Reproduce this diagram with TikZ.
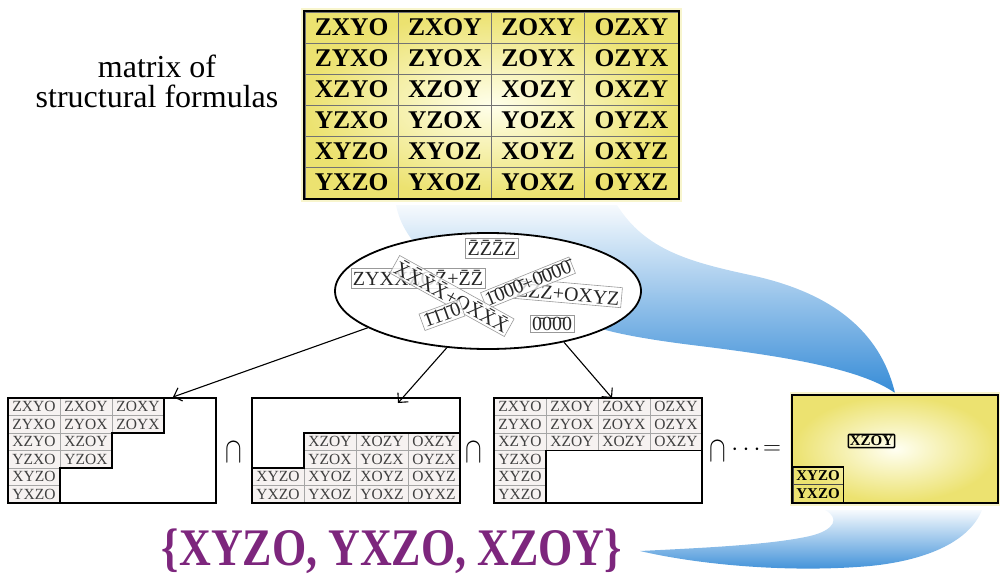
\documentclass[tikz,border=0pt]{standalone}
\usepackage{fontspec}
\setmainfont{Liberation Serif}
\usetikzlibrary{arrows.meta,shapes.geometric,shadings}
\definecolor{swooshblue}{RGB}{55,140,215}
\definecolor{paleblue}{RGB}{232,242,251}
\definecolor{matyellow}{RGB}{236,226,112}
\definecolor{formpurple}{RGB}{125,38,125}
\definecolor{cellgrey}{RGB}{246,242,241}

\begin{document}
\begin{tikzpicture}[x=1pt,y=-1pt,
    bigcell/.style={draw=black!55,line width=0.7pt,minimum width=93.25pt,minimum height=31pt,
      inner sep=0pt,font=\fontsize{25.5}{25.5}\selectfont\bfseries},
    cell/.style={draw=gray!70,line width=0.6pt,fill=cellgrey,minimum width=52pt,
      minimum height=17.5pt,inner sep=0pt,text=black!75,font=\fontsize{15.5}{15.5}\selectfont},
    rescell/.style={draw=black!70,line width=0.6pt,minimum width=50pt,minimum height=17.5pt,
      inner sep=0pt,font=\fontsize{15}{15}\selectfont\bfseries},
    tile/.style={draw=gray!80,line width=0.6pt,fill=white,fill opacity=0.8,text opacity=1,
      inner sep=2pt,text=black!85,font=\fontsize{20}{20}\selectfont},
    opsym/.style={inner sep=0pt,font=\fontsize{26}{26}\selectfont},
    capsym/.style={inner sep=0pt,font=\fontsize{24.88}{26}\selectfont},
    boxline/.style={line width=1.8pt},
    pick/.style={line width=1.1pt,-{Straight Barb[length=7pt,width=14pt]}}]
  \useasboundingbox (0,0) rectangle (1001,575);
  % Blue swooshes
  \shade[top color=paleblue!40!white,middle color=swooshblue!65,bottom color=swooshblue]
    (396,205) -- (617,205) .. controls (645,250) and (690,262) .. (750,275)
    .. controls (830,292) and (880,330) .. (895,393)
    .. controls (860,368) and (780,356) .. (700,346)
    .. controls (650,340) and (610,333) .. (590,325) -- (430,260)
    .. controls (410,240) and (400,225) .. (396,205) -- cycle;
  \shade[top color=paleblue!40!white,bottom color=swooshblue]
    (825,510) -- (982,510) .. controls (970,540) and (930,560) .. (870,566)
    .. controls (790,573) and (700,565) .. (640,551)
    .. controls (700,548) and (770,545) .. (810,536)
    .. controls (835,530) and (840,518) .. (825,510) -- cycle;
  % Matrix of structural formulas
  \fill[matyellow!70,opacity=0.5] (301,8) rectangle (682,202);
  \node[boxline,inner sep=0pt,minimum width=373pt,minimum height=186pt,
    inner color=yellow!8!white,outer color=matyellow] (fmat) at (491.5,105) {};
  \foreach \t [count=\k from 0] in {ZXYO,ZXOY,ZOXY,OZXY,ZYXO,ZYOX,ZOYX,OZYX,
      XZYO,XZOY,XOZY,OXZY,YZXO,YZOX,YOZX,OYZX,XYZO,XYOZ,XOYZ,OXYZ,YXZO,YXOZ,YOXZ,OYXZ}{
    \pgfmathtruncatemacro\c{mod(\k,4)}
    \pgfmathtruncatemacro\r{div(\k,4)}
    \node[bigcell] (m\r\c) at (351.6+93.25*\c,27.5+31*\r) {\t};
  }
  \draw[boxline] (fmat.north west) rectangle (fmat.south east);
  \node[anchor=base,font=\fontsize{32}{30}\selectfont] (capa) at (157,78) {matrix of};
  \node[anchor=base,font=\fontsize{32}{30}\selectfont] (capb) at (157,108) {structural formulas};
  % Pool of formula pieces
  \node[ellipse,draw,boxline,fill=white,minimum width=306pt,minimum height=116pt,
    inner sep=0pt] (pool) at (488,291) {};
  \node[tile] (t1) at (418,278) {ZYX\=X\=ZO\=Z+\=Z\=Z};
  \node[tile,rotate=-5] (t2) at (568,293) {\=Z\=ZZ+OXYZ};
  \node[tile,rotate=22] (t3) at (528,283) {\=1\=0\=0\=0+\=0\=0\=0\=0};
  \node[tile,rotate=-29] (t4) at (452,296) {\=X\=X\=X\=X+O\=X\=X\=X};
  \node[tile,rotate=20] (t5) at (442,315) {\=1\=1\=10};
  \node[tile] (t6) at (552,324) {\=0\=0\=00};
  \node[tile] (t7) at (492,248) {\=Z\=Z\=ZZ};
  % Three partial matrices
  \foreach \c/\r/\t in {1/1/ZXYO,2/1/ZXOY,3/1/ZOXY,1/2/ZYXO,2/2/ZYOX,3/2/ZOYX,
      1/3/XZYO,2/3/XZOY,1/4/YZXO,2/4/YZOX,1/5/XYZO,1/6/YXZO}
    \node[cell] (pa-\c-\r) at (8+52*\c-26,398+17.5*\r-8.75) {\t};
  \foreach \c/\r/\t in {2/3/XZOY,3/3/XOZY,4/3/OXZY,2/4/YZOX,3/4/YOZX,4/4/OYZX,
      1/5/XYZO,2/5/XYOZ,3/5/XOYZ,4/5/OXYZ,1/6/YXZO,2/6/YXOZ,3/6/YOXZ,4/6/OYXZ}
    \node[cell] (pb-\c-\r) at (252+52*\c-26,398+17.5*\r-8.75) {\t};
  \foreach \c/\r/\t in {1/1/ZXYO,2/1/ZXOY,3/1/ZOXY,4/1/OZXY,1/2/ZYXO,2/2/ZYOX,3/2/ZOYX,4/2/OZYX,
      1/3/XZYO,2/3/XZOY,3/3/XOZY,4/3/OXZY,1/4/YZXO,1/5/XYZO,1/6/YXZO}
    \node[cell] (pc-\c-\r) at (494+52*\c-26,398+17.5*\r-8.75) {\t};
  \draw[boxline] (164,398) -- (164,433) -- (112,433) -- (112,468) -- (60,468) -- (60,503);
  \draw[boxline] (252,468) -- (304,468) -- (304,433) -- (460,433);
  \draw[boxline] (546,503) -- (546,450.5) -- (702,450.5);
  \node[draw,boxline,inner sep=0pt,minimum width=208pt,minimum height=105pt] (pane1) at (112,450.5) {};
  \node[draw,boxline,inner sep=0pt,minimum width=208pt,minimum height=105pt] (pane2) at (356,450.5) {};
  \node[draw,boxline,inner sep=0pt,minimum width=208pt,minimum height=105pt] (pane3) at (598,450.5) {};
  % Arrows
  \coordinate (tip1) at (173,397);
  \coordinate (tip2) at (398,403);
  \coordinate (tip3) at (612,398);
  \draw[pick] (pool.197) -- (tip1);
  \draw[pick] (pool.234) -- (tip2);
  \draw[pick] (pool.326) -- (tip3);
  % Intersections
  \node[capsym] (cap1) at (234,452) {\scalebox{1}[1.45]{$\cap$}};
  \node[capsym] (cap2) at (474,452) {\scalebox{1}[1.45]{$\cap$}};
  \node[capsym] (cap3) at (718,451) {\scalebox{1}[1.45]{$\cap$}};
  \node[opsym] (dots) at (746,450) {$\cdots$};
  \node[opsym] (eq) at (772,450) {$=$};
  % Result
  \fill[matyellow!70,opacity=0.5] (790,392) rectangle (1000,506);
  \node[boxline,inner sep=0pt,minimum width=204pt,minimum height=106pt,
    inner color=yellow!5!white,outer color=matyellow] (result) at (895,449) {};
  \draw[boxline] (result.north west) rectangle (result.south east);
  \node[rescell] (r1) at (818,476) {XYZO};
  \node[rescell] (r2) at (818,493.5) {YXZO};
  \draw[line width=1.5pt] (r1.north west) rectangle (r2.south east);
  \node[draw,line width=1.5pt,rounded corners=1pt,inner sep=1.5pt,
    font=\fontsize{15}{15}\selectfont\bfseries] (rx) at (871.5,441) {XZOY};
  % Answer
  \node[anchor=base,text=formpurple,font=\fontsize{44}{44}\selectfont\bfseries] (answer)
    at (392,565) {\scalebox{1}[1.2]{\{XYZO, YXZO, XZOY\}}};
\end{tikzpicture}
\end{document}
